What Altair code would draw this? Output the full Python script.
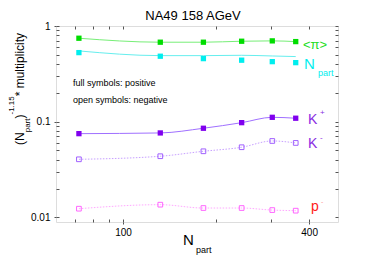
import altair as alt
import pandas as pd

npart = [72, 132, 182, 242, 304, 362]
pi_vals = [0.745, 0.677, 0.677, 0.693, 0.699, 0.687]
np_pts = [0.527, 0.483, 0.456, 0.439, 0.424, 0.414]
np_line = [0.549, 0.490, 0.490, 0.494, 0.486, 0.479]
kplus = [0.0749, 0.0762, 0.0853, 0.0976, 0.111, 0.1086]
kminus = [0.0404, 0.0435, 0.049, 0.054, 0.0628, 0.0599]
pbar = [0.0123, 0.01355, 0.0125, 0.0125, 0.0119, 0.01173]

x_ticks = [70, 80, 90, 100, 200, 300, 400]
x_labels = [100, 400]
y_ticks = [0.01, 0.02, 0.03, 0.04, 0.05, 0.06, 0.07, 0.08, 0.09,
           0.1, 0.2, 0.3, 0.4, 0.5, 0.6, 0.7, 0.8, 0.9, 1]
y_labels = [0.01, 0.1, 1]

rows = []
for name, vals in [("pi", pi_vals), ("np", np_pts), ("npl", np_line),
                   ("kp", kplus), ("km", kminus), ("pb", pbar)]:
    for n, v in zip(npart, vals):
        rows.append({"s": name, "n": n, "v": v})
df = pd.DataFrame(rows)

FONT = "Liberation Sans"
xs = alt.Scale(type="log", domain=[60.7, 496], nice=False)
ys = alt.Scale(type="log", domain=[0.00893, 1.0], nice=False)

base = alt.Chart(df)


def X(axis):
    return alt.X("n:Q", scale=xs, axis=axis)


def Y(axis):
    return alt.Y("v:Q", scale=ys, axis=axis)


def series(name):
    return base.transform_filter(alt.datum.s == name)


# axes layers
ax_labels = base.mark_point(opacity=0).encode(
    x=X(alt.Axis(orient="bottom", values=x_labels, title=None, domain=False,
                 ticks=True, tickSize=2, tickColor="#555", labelPadding=3,
                 labelFontSize=10, labelFont=FONT, labelColor="#000", grid=False,
                 labelExpr="datum.value")),
    y=Y(alt.Axis(orient="left", values=y_labels, title=None, domain=False,
                 ticks=True, tickSize=2, tickColor="#555", labelPadding=4,
                 labelFontSize=10, labelFont=FONT, labelColor="#000", grid=False,
                 labelExpr="datum.value")),
)
ax_in1 = base.mark_point(opacity=0).encode(
    x=X(alt.Axis(orient="bottom", values=x_ticks, title=None, domain=False,
                 labels=False, tickSize=3, offset=-3, tickColor="#555", grid=False)),
    y=Y(alt.Axis(orient="left", values=y_ticks, title=None, domain=False,
                 labels=False, tickSize=3, offset=-3, tickColor="#555", grid=False)),
)
ax_in2 = base.mark_point(opacity=0).encode(
    x=X(alt.Axis(orient="top", values=x_ticks, title=None, domain=False,
                 labels=False, tickSize=3, offset=-3, tickColor="#555", grid=False)),
    y=Y(alt.Axis(orient="right", values=y_ticks, title=None, domain=False,
                 labels=False, tickSize=3, offset=-3, tickColor="#555", grid=False)),
)

NA = None


def line(name, color, dash=None):
    kw = dict(color=color, strokeWidth=1, interpolate="monotone")
    if dash:
        kw["strokeDash"] = dash
    return series(name).mark_line(**kw).encode(x=X(NA), y=Y(NA))


def pts(name, color, filled):
    if filled:
        m = dict(shape="square", filled=True, color=color, size=28, opacity=1)
    else:
        m = dict(shape="square", filled=False, color=color, size=22,
                 strokeWidth=1, opacity=1)
    return series(name).mark_point(**m).encode(x=X(NA), y=Y(NA))


def txt(t, x, y, size, color="#000", align="left", baseline="middle", angle=0):
    kw = dict(text=t, fontSize=size, font=FONT, color=color, align=align,
              baseline=baseline)
    if angle:
        kw["angle"] = angle
    return alt.Chart(pd.DataFrame({"a": [0]})).mark_text(**kw).encode(
        x=alt.value(x), y=alt.value(y))


layers = [
    ax_labels, ax_in1, ax_in2,
    line("pi", "#77ee77"), pts("pi", "#00dd00", True),
    line("npl", "#66eeee"), pts("np", "#00eeee", True),
    line("kp", "#a070ff"), pts("kp", "#8000ee", True),
    line("km", "#c8a0ff", [1.5, 1.5]), pts("km", "#a060ff", False),
    line("pb", "#ffa8ff", [1.5, 1.5]), pts("pb", "#ff66ff", False),
    txt("NA49 158 AGeV", 137, -6, 13, align="center", baseline="alphabetic"),
    txt("full symbols: positive", 17, 57, 9),
    txt("open symbols: negative", 17, 74, 9),
    txt("<π>", 247, 19, 13, color="#22dd22"),
    txt("N", 248, 38, 15, color="#00eeee"),
    txt("part", 262, 47, 9, color="#00eeee"),
    txt("K", 252, 93.5, 14, color="#8a2be2"),
    txt("+", 264, 87, 8, color="#8a2be2"),
    txt("K", 252, 118, 14, color="#8a2be2"),
    txt("-", 264, 112, 8, color="#8a2be2"),
    txt("p", 255, 185, 14, color="#ff1a1a", baseline="alphabetic"),
    txt("-", 265, 176, 7, color="#ff9999"),
    txt("N", 127, 214, 15),
    txt("part", 140, 224, 9),
    txt("(N", -36, 119, 12, angle=270),
    txt("part", -28, 106.3, 8, angle=270),
    txt(")", -36, 92.5, 12, angle=270),
    txt("-1.15", -44, 88.5, 8, angle=270),
    txt(" * multiplicity", -36, 70.3, 12, angle=270),
]

chart = alt.layer(*layers).resolve_axis(x="independent", y="independent").properties(
    width=282, height=196,
    autosize=alt.AutoSizeParams(type="none"),
    padding={"left": 48, "top": 18, "right": 30, "bottom": 34},
).configure_view(stroke="#555", strokeWidth=1.5).configure(background="white")

chart.save("out.html", embed_options={"renderer": "svg", "actions": False})
